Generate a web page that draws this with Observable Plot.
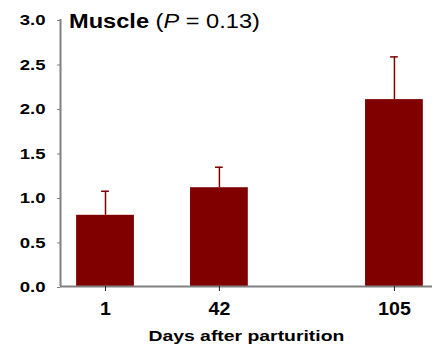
<!DOCTYPE html>
<html><head><meta charset="utf-8">
<script src="https://cdn.jsdelivr.net/npm/d3@7"></script>
<script src="https://cdn.jsdelivr.net/npm/@observablehq/plot@0.6"></script>
<style>
body{margin:0;background:#fff;}
#wrap{position:relative;width:432px;height:346px;font-family:"Liberation Sans",Arial,sans-serif;color:#000;}
#title{position:absolute;left:69px;top:11px;font-size:20px;line-height:1;transform:scaleX(1.18);transform-origin:0 0;white-space:nowrap;}
#xlabel{position:absolute;left:0;width:100%;top:328px;text-align:center;font-size:15.5px;font-weight:bold;line-height:1;}
#xlabel span{display:inline-block;transform:scaleX(1.25);margin-left:60px;}
</style></head><body>
<div id="wrap"><div id="chart"></div>
<div id="title"><b>Muscle</b> (<i>P</i> = 0.13)</div>
<div id="xlabel"><span>Days after parturition</span></div>
</div>
<script>
const days = [1, 42, 105];
const means = [0.80, 1.11, 2.10];
const upper = [1.07, 1.34, 2.58];
const yTicks = [0, 0.5, 1, 1.5, 2, 2.5, 3];
const xTicks = [1, 42, 105];
const barHalf = 10.4;
const capHalf = 1.4;
const xDomain = [-15.2, 118.7];
const yDomain = [0, 3];
const data = days.map((d, i) => ({day: d, mean: means[i], upper: upper[i]}));
const red = "#800000";
const plot = Plot.plot({
  width: 432, height: 346,
  marginLeft: 60, marginRight: 0, marginTop: 19, marginBottom: 60,
  style: {fontFamily: "'Liberation Sans', Arial, sans-serif", background: "transparent", overflow: "visible", color: "#000"},
  x: {domain: xDomain},
  y: {domain: yDomain},
  marks: [
    Plot.rectY(data, {x1: d => d.day - barHalf, x2: d => d.day + barHalf, y1: 0, y2: "mean", fill: red}),
    Plot.ruleX(data, {x: "day", y1: "mean", y2: "upper", stroke: red, strokeWidth: 1.5}),
    Plot.ruleY(data, {y: "upper", x1: d => d.day - capHalf, x2: d => d.day + capHalf, stroke: red, strokeWidth: 1.5}),
    Plot.ruleX([xDomain[0]], {y1: yDomain[0], y2: yDomain[1], stroke: "#808080", strokeWidth: 2}),
    Plot.ruleY([0], {stroke: "#808080", strokeWidth: 2}),
    Plot.axisY({ticks: yTicks, tickFormat: d3.format(".1f"), tickSize: 3, tickPadding: 12, label: null,
      fontSize: 14.5, fontWeight: "bold", stroke: "#808080", dy: 1}),
    Plot.axisX({ticks: xTicks, tickFormat: d => String(d), tickSize: 5, tickPadding: 11, label: null,
      fontSize: 17.5, fontWeight: "bold", stroke: "#222"})
  ]
});
document.getElementById("chart").appendChild(plot);
function stretch(sel, s) {
  plot.querySelectorAll(sel).forEach(t => {
    const len = t.getComputedTextLength();
    if (len > 0) {
      t.setAttribute("textLength", (len * s).toFixed(2));
      t.setAttribute("lengthAdjust", "spacingAndGlyphs");
    }
  });
}
stretch('g[aria-label="y-axis tick label"] text', 1.28);
stretch('g[aria-label="x-axis tick label"] text', 1.12);
</script>
</body></html>
